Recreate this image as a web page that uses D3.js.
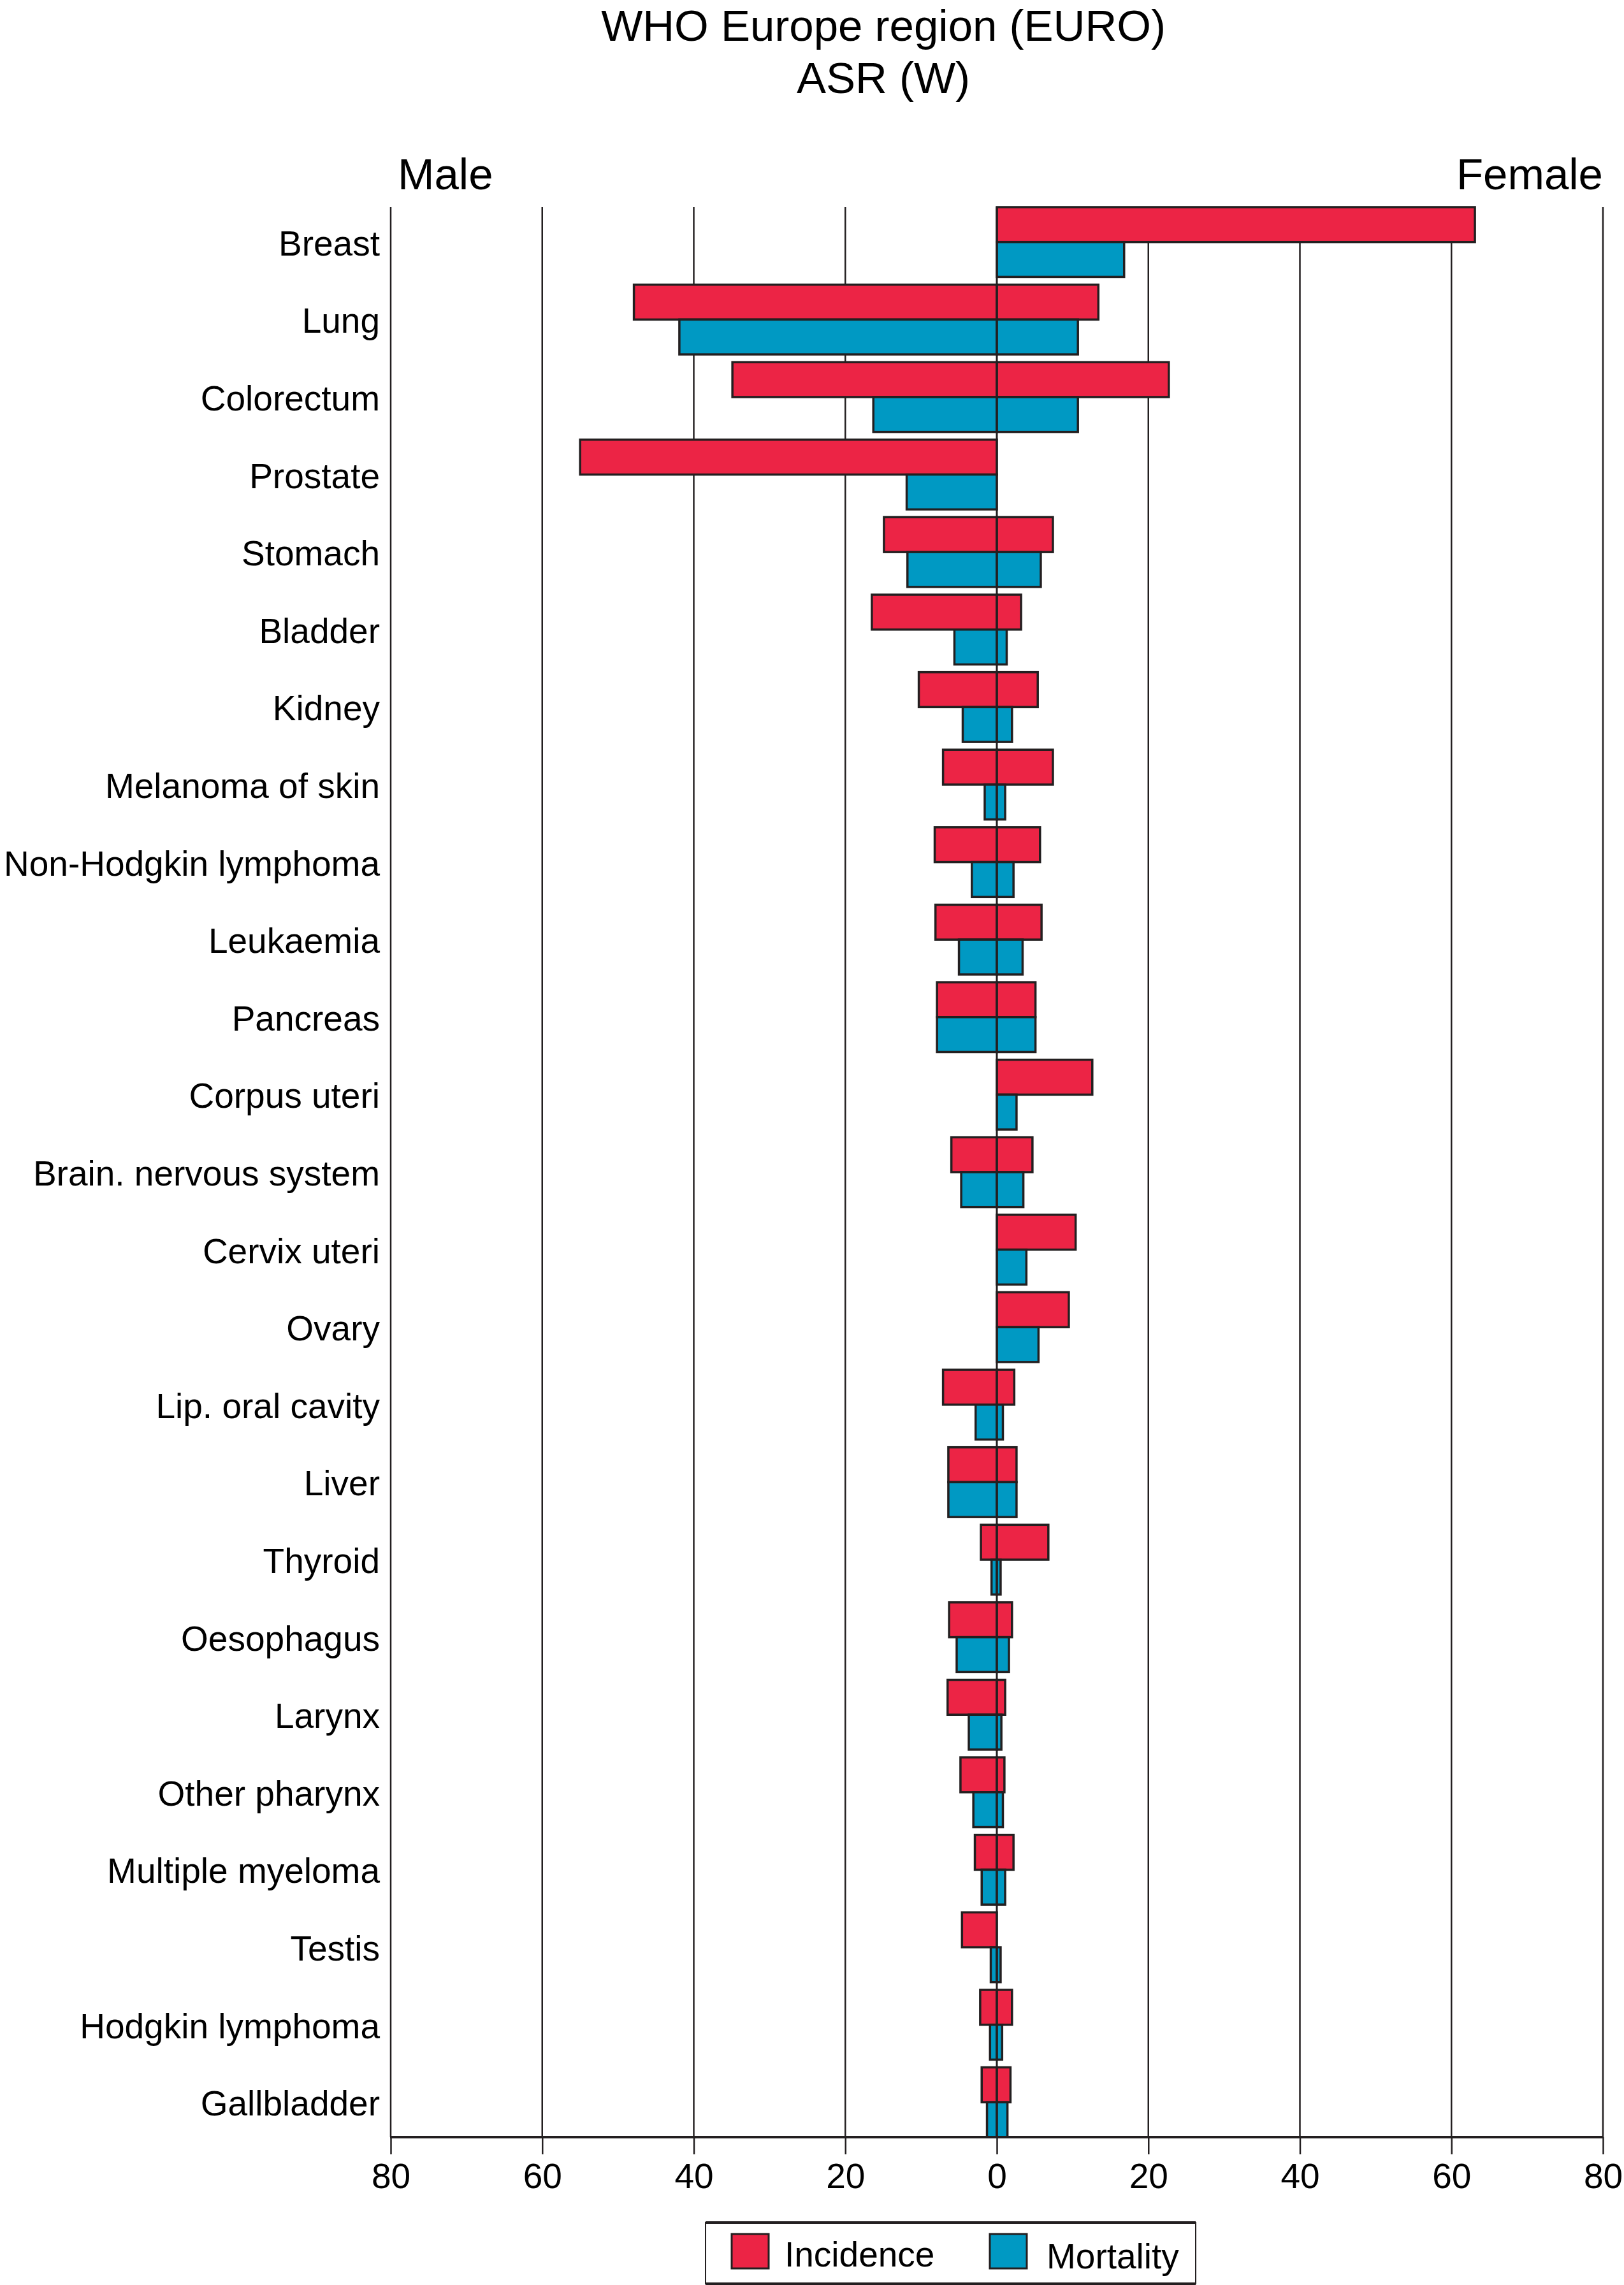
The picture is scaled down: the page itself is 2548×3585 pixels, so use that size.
<!DOCTYPE html>
<html>
<head>
<meta charset="utf-8">
<script src="https://cdn.jsdelivr.net/npm/d3@7"></script>
<style>
  body { margin: 0; background: #fff; }
  svg { display: block; font-family: "Liberation Sans", Arial, Helvetica, sans-serif; }
</style>
</head>
<body>
<svg id="chart" width="2548" height="3585"></svg>
<script>
const categories = [
  'Breast', 'Lung', 'Colorectum', 'Prostate', 'Stomach', 'Bladder', 'Kidney',
  'Melanoma of skin', 'Non-Hodgkin lymphoma', 'Leukaemia', 'Pancreas',
  'Corpus uteri', 'Brain. nervous system', 'Cervix uteri', 'Ovary',
  'Lip. oral cavity', 'Liver', 'Thyroid', 'Oesophagus', 'Larynx',
  'Other pharynx', 'Multiple myeloma', 'Testis', 'Hodgkin lymphoma', 'Gallbladder'
];

// ASR (W) per 100 000, null = not applicable
const maleIncidence = [null, 47.9, 34.9, 55.0, 14.9, 16.5, 10.3, 7.1, 8.2, 8.1, 7.9,
  null, 6.0, null, null, 7.1, 6.4, 2.1, 6.3, 6.5, 4.8, 2.9, 4.6, 2.2, 2.0];
const maleMortality = [null, 41.9, 16.3, 11.9, 11.8, 5.6, 4.5, 1.6, 3.3, 5.0, 7.9,
  null, 4.7, null, null, 2.8, 6.4, 0.7, 5.3, 3.7, 3.1, 2.0, 0.8, 0.9, 1.3];
const femaleIncidence = [63.1, 13.4, 22.7, null, 7.4, 3.2, 5.4, 7.4, 5.7, 5.9, 5.1,
  12.6, 4.7, 10.4, 9.5, 2.3, 2.6, 6.8, 2.0, 1.1, 1.0, 2.2, null, 2.0, 1.8];
const femaleMortality = [16.8, 10.7, 10.7, null, 5.8, 1.3, 2.0, 1.1, 2.2, 3.4, 5.1,
  2.6, 3.5, 3.9, 5.5, 0.8, 2.6, 0.5, 1.6, 0.6, 0.8, 1.1, 0.5, 0.7, 1.4];

const tickValues = [-80, -60, -40, -20, 0, 20, 40, 60, 80];
const series = ['Incidence', 'Mortality'];

const red = '#ec2445';
const blue = '#0099c3';
const ink = '#231f20';

const svg = d3.select('#chart');
const plotLeft = 613, plotRight = 2515, plotTop = 325, plotBottom = 3353;

const x = d3.scaleLinear().domain([-80, 80]).range([plotLeft, plotRight]);
const y = d3.scaleBand().domain(categories).range([plotTop, plotBottom])
  .paddingInner(0.1).paddingOuter(0).align(0);
const sub = d3.scaleBand().domain(series).range([0, y.bandwidth()]);
const colour = d3.scaleOrdinal().domain(series).range([red, blue]);

// titles
svg.append('text')
  .attr('x', 1386).attr('y', 64)
  .attr('text-anchor', 'middle')
  .attr('font-size', 69)
  .text('WHO Europe region (EURO)');
svg.append('text')
  .attr('x', 1386).attr('y', 146)
  .attr('text-anchor', 'middle')
  .attr('font-size', 69)
  .text('ASR (W)');
svg.append('text')
  .attr('x', plotLeft + 11).attr('y', 297)
  .attr('font-size', 69)
  .text('Male');
svg.append('text')
  .attr('x', plotRight).attr('y', 297)
  .attr('text-anchor', 'end')
  .attr('font-size', 69)
  .text('Female');

// grid lines behind bars
svg.append('g')
  .selectAll('line')
  .data(tickValues.filter(d => d !== 0))
  .join('line')
  .attr('x1', d => x(d)).attr('x2', d => x(d))
  .attr('y1', plotTop).attr('y2', plotBottom)
  .attr('stroke', ink)
  .attr('stroke-width', 2.5);

// bars
const rows = categories.map((c, i) => ({
  cat: c,
  vals: [
    { s: 'Incidence', m: maleIncidence[i], f: femaleIncidence[i] },
    { s: 'Mortality', m: maleMortality[i], f: femaleMortality[i] }
  ]
}));

const bars = [];
rows.forEach(r => r.vals.forEach(v => {
  if (v.m != null) bars.push({ cat: r.cat, s: v.s, x0: -v.m, x1: 0 });
  if (v.f != null) bars.push({ cat: r.cat, s: v.s, x0: 0, x1: v.f });
}));

svg.append('g')
  .selectAll('rect')
  .data(bars)
  .join('rect')
  .attr('x', d => x(d.x0))
  .attr('width', d => x(d.x1) - x(d.x0))
  .attr('y', d => y(d.cat) + sub(d.s))
  .attr('height', sub.bandwidth())
  .attr('fill', d => colour(d.s))
  .attr('stroke', ink)
  .attr('stroke-width', 3.5);

// zero line on top of bars
svg.append('line')
  .attr('x1', x(0)).attr('x2', x(0))
  .attr('y1', plotTop).attr('y2', plotBottom)
  .attr('stroke', ink)
  .attr('stroke-width', 3);

// category labels
svg.append('g')
  .selectAll('text')
  .data(categories)
  .join('text')
  .attr('x', 596)
  .attr('y', d => y(d) + y.bandwidth() / 2 + 21)
  .attr('text-anchor', 'end')
  .attr('font-size', 55)
  .text(d => d);

// bottom axis
const xAxis = d3.axisBottom(x)
  .tickValues(tickValues)
  .tickSize(27)
  .tickPadding(14)
  .tickFormat(d => Math.abs(d));

const axisG = svg.append('g')
  .attr('transform', `translate(0,${plotBottom})`)
  .call(xAxis);
axisG.select('.domain').remove();
axisG.selectAll('.tick line').attr('stroke', ink).attr('stroke-width', 2.5);
axisG.selectAll('.tick text')
  .attr('font-size', 55)
  .attr('font-family', '"Liberation Sans", Arial, Helvetica, sans-serif')
  .attr('fill', '#000');

svg.append('line')
  .attr('x1', plotLeft - 1).attr('x2', plotRight + 1)
  .attr('y1', plotBottom).attr('y2', plotBottom)
  .attr('stroke', ink)
  .attr('stroke-width', 4);

// legend
const legend = svg.append('g');
legend.append('rect')
  .attr('x', 1107).attr('y', 3487)
  .attr('width', 769).attr('height', 96)
  .attr('fill', '#fff')
  .attr('stroke', ink)
  .attr('stroke-width', 2);
[3487, 3583].forEach(ly => legend.append('line')
  .attr('x1', 1107).attr('x2', 1876)
  .attr('y1', ly).attr('y2', ly)
  .attr('stroke', ink).attr('stroke-width', 4));

const legendPos = [
  { s: 'Incidence', sx: 1148, tx: 1231, ty: 3556 },
  { s: 'Mortality', sx: 1553, tx: 1642, ty: 3559 }
];
legend.selectAll('rect.swatch')
  .data(legendPos)
  .join('rect')
  .attr('class', 'swatch')
  .attr('x', d => d.sx).attr('y', 3505)
  .attr('width', 58).attr('height', 54)
  .attr('fill', d => colour(d.s))
  .attr('stroke', ink)
  .attr('stroke-width', 3);
legend.selectAll('text.label')
  .data(legendPos)
  .join('text')
  .attr('class', 'label')
  .attr('x', d => d.tx).attr('y', d => d.ty)
  .attr('font-size', 55)
  .text(d => d.s);
</script>
</body>
</html>
